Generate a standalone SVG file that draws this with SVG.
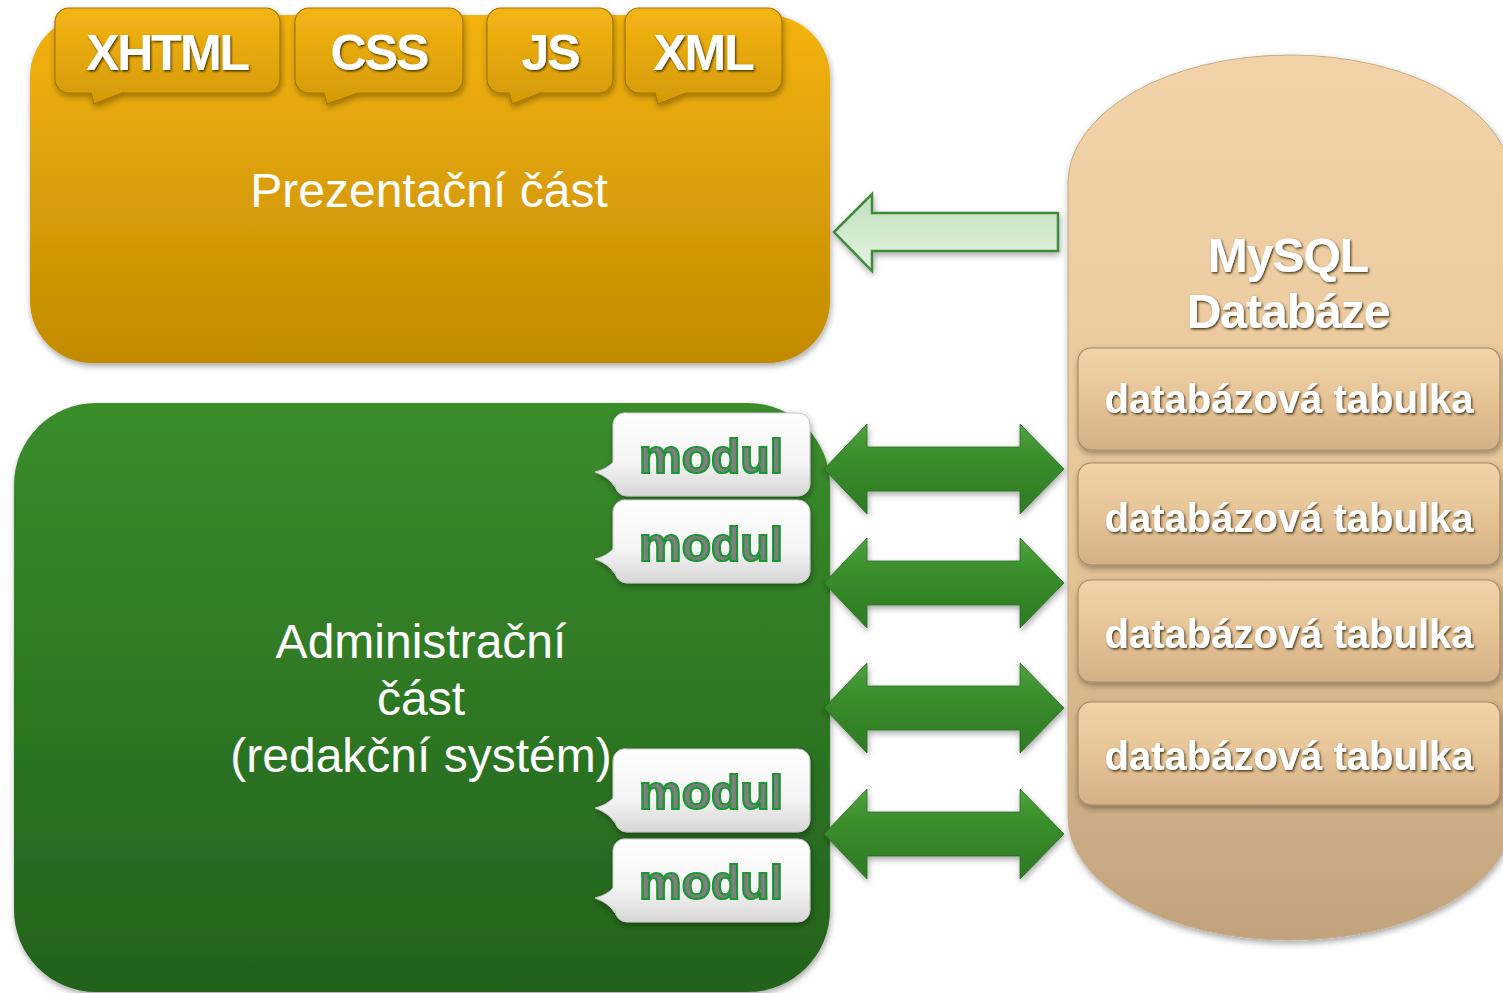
<svg xmlns="http://www.w3.org/2000/svg" width="1503" height="993" viewBox="0 0 1503 993">
  <defs>
    <style>
      .tabtxt { font-family: "Liberation Sans", Arial, sans-serif; font-weight: bold; font-size: 50px; fill: #ffffff; letter-spacing: -2px; text-anchor: middle; }
      .big { font-family: "Liberation Sans", Arial, sans-serif; font-size: 48px; fill: #ffffff; text-anchor: middle; }
      .mod { font-family: "Liberation Sans", Arial, sans-serif; font-weight: bold; font-size: 48px; fill: #7f7f7f; stroke: #1a9632; stroke-width: 2.2; text-anchor: middle; }
      .db { font-family: "Liberation Sans", Arial, sans-serif; font-weight: bold; font-size: 48px; fill: #ffffff; text-anchor: middle; letter-spacing: -1px; }
      .tbl { font-family: "Liberation Sans", Arial, sans-serif; font-weight: bold; font-size: 40px; fill: #ffffff; text-anchor: middle; }
      .tab { fill: url(#gTab); stroke: #a87400; stroke-width: 1.2; }
      .modbox { fill: url(#gMod); stroke: #c8c8c8; stroke-width: 1; }
      .row { fill: url(#gRow); stroke: #a88a66; stroke-width: 1.2; }
      .dbl { fill: url(#gArr); stroke: #2a6a22; stroke-width: 0.8; }
    </style>
    <linearGradient id="gOrange" x1="0" y1="0" x2="0" y2="1">
      <stop offset="0" stop-color="#F3B30E"/>
      <stop offset="1" stop-color="#C28A02"/>
    </linearGradient>
    <linearGradient id="gTab" x1="0" y1="0" x2="0" y2="1">
      <stop offset="0" stop-color="#F4B515"/>
      <stop offset="1" stop-color="#D49A05"/>
    </linearGradient>
    <linearGradient id="gGreen" x1="0" y1="0" x2="0" y2="1">
      <stop offset="0" stop-color="#3A8D2B"/>
      <stop offset="1" stop-color="#23621D"/>
    </linearGradient>
    <linearGradient id="gMod" x1="0" y1="0" x2="0" y2="1">
      <stop offset="0" stop-color="#ffffff"/>
      <stop offset="0.6" stop-color="#f4f4f4"/>
      <stop offset="1" stop-color="#d6d6d6"/>
    </linearGradient>
    <linearGradient id="gDB" x1="0" y1="0" x2="0" y2="1">
      <stop offset="0" stop-color="#F2D3A8"/>
      <stop offset="0.55" stop-color="#E6C598"/>
      <stop offset="1" stop-color="#C2A27C"/>
    </linearGradient>
    <linearGradient id="gRow" x1="0" y1="0" x2="0" y2="1">
      <stop offset="0" stop-color="#F1D3A9"/>
      <stop offset="0.5" stop-color="#E6C497"/>
      <stop offset="1" stop-color="#D3B086"/>
    </linearGradient>
    <linearGradient id="gArr" x1="0" y1="0" x2="0" y2="1">
      <stop offset="0" stop-color="#4FA53E"/>
      <stop offset="0.35" stop-color="#3A8E2C"/>
      <stop offset="1" stop-color="#2E7A24"/>
    </linearGradient>
    <linearGradient id="gHollow" x1="0" y1="0" x2="0" y2="1">
      <stop offset="0" stop-color="#C3E0BE"/>
      <stop offset="1" stop-color="#E3F2E0"/>
    </linearGradient>
    <filter id="sh" x="-10%" y="-10%" width="120%" height="120%">
      <feDropShadow dx="1" dy="3" stdDeviation="3" flood-color="#000" flood-opacity="0.35"/>
    </filter>
    <filter id="ts" x="-10%" y="-20%" width="120%" height="140%">
      <feDropShadow dx="1.2" dy="1.5" stdDeviation="0.8" flood-color="#2a1c05" flood-opacity="0.85"/>
    </filter>
    <path id="dblArrow" d="M824,0 L867,-45 L867,-22 L1020,-22 L1020,-45 L1064,0 L1020,45 L1020,22 L867,22 L867,45 Z"/>
    <path id="modShape" d="M12,0 H183 A12,12 0 0 1 195,12 V71 A12,12 0 0 1 183,83 H12 A12,12 0 0 1 0,71 V74 Q-6,64 -20,59 Q-8,56 -2,49 V12 A12,12 0 0 1 12,0 Z"/>
  </defs>

  <rect width="1503" height="993" fill="#ffffff"/>

  <!-- Presentation part -->
  <g id="prezentacni">
    <rect x="30" y="15" width="800" height="348" rx="62" ry="62" fill="url(#gOrange)" filter="url(#sh)"/>
    <text class="big" x="429" y="207">Prezentační část</text>
  </g>

  <g id="tab-xhtml" filter="url(#sh)">
    <path class="tab" d="M69,8 H266 A14,14 0 0 1 280,22 V79 A14,14 0 0 1 266,93 H122 L94,104 L91,93 H69 A14,14 0 0 1 55,79 V22 A14,14 0 0 1 69,8 Z"/>
    <text class="tabtxt" x="167" y="70" filter="url(#ts)">XHTML</text>
  </g>
  <g id="tab-css" filter="url(#sh)">
    <path class="tab" d="M309,8 H449 A14,14 0 0 1 463,22 V79 A14,14 0 0 1 449,93 H358 L327,104 L324,93 H309 A14,14 0 0 1 295,79 V22 A14,14 0 0 1 309,8 Z"/>
    <text class="tabtxt" x="379" y="70" filter="url(#ts)">CSS</text>
  </g>
  <g id="tab-js" filter="url(#sh)">
    <path class="tab" d="M501,8 H599 A14,14 0 0 1 613,22 V79 A14,14 0 0 1 599,93 H540 L512,104 L509,93 H501 A14,14 0 0 1 487,79 V22 A14,14 0 0 1 501,8 Z"/>
    <text class="tabtxt" x="550" y="70" filter="url(#ts)">JS</text>
  </g>
  <g id="tab-xml" filter="url(#sh)">
    <path class="tab" d="M639,8 H768 A14,14 0 0 1 782,22 V79 A14,14 0 0 1 768,93 H686 L658,104 L655,93 H639 A14,14 0 0 1 625,79 V22 A14,14 0 0 1 639,8 Z"/>
    <text class="tabtxt" x="703" y="70" filter="url(#ts)">XML</text>
  </g>

  <!-- Administration part -->
  <g id="administracni">
    <rect x="14" y="403" width="816" height="589" rx="82" ry="82" fill="url(#gGreen)" filter="url(#sh)"/>
    <text class="big" x="421" y="658">Administrační</text>
    <text class="big" x="421" y="715">část</text>
    <text class="big" x="421" y="772">(redakční systém)</text>
  </g>

  <g id="modul-1" filter="url(#sh)">
    <use href="#modShape" class="modbox" transform="translate(615,413)"/>
    <text class="mod" x="711" y="473">modul</text>
  </g>
  <g id="modul-2" filter="url(#sh)">
    <use href="#modShape" class="modbox" transform="translate(615,500)"/>
    <text class="mod" x="711" y="561">modul</text>
  </g>
  <g id="modul-3" filter="url(#sh)">
    <use href="#modShape" class="modbox" transform="translate(615,749)"/>
    <text class="mod" x="711" y="809">modul</text>
  </g>
  <g id="modul-4" filter="url(#sh)">
    <use href="#modShape" class="modbox" transform="translate(615,839)"/>
    <text class="mod" x="711" y="899">modul</text>
  </g>

  <!-- Database -->
  <g id="databaze">
    <path d="M1068,183 A222,128 0 0 1 1512,183 L1512,817 A222,123 0 0 1 1068,817 Z" fill="url(#gDB)" stroke="#c9ab86" stroke-width="1" filter="url(#sh)"/>
    <text class="db" x="1288" y="272" filter="url(#ts)">MySQL</text>
    <text class="db" x="1288" y="328" filter="url(#ts)">Databáze</text>
  </g>
  <g id="tabulka-1" filter="url(#sh)">
    <rect class="row" x="1078" y="348" width="422" height="102" rx="13"/>
    <text class="tbl" x="1289" y="413" filter="url(#ts)">databázová tabulka</text>
  </g>
  <g id="tabulka-2" filter="url(#sh)">
    <rect class="row" x="1078" y="463" width="422" height="102" rx="13"/>
    <text class="tbl" x="1289" y="532" filter="url(#ts)">databázová tabulka</text>
  </g>
  <g id="tabulka-3" filter="url(#sh)">
    <rect class="row" x="1078" y="580" width="422" height="102" rx="13"/>
    <text class="tbl" x="1289" y="648" filter="url(#ts)">databázová tabulka</text>
  </g>
  <g id="tabulka-4" filter="url(#sh)">
    <rect class="row" x="1078" y="702" width="422" height="103" rx="13"/>
    <text class="tbl" x="1289" y="770" filter="url(#ts)">databázová tabulka</text>
  </g>

  <!-- Connectors -->
  <g id="connectors">
    <path d="M834,232 L872,194 L872,213 L1058,213 L1058,251 L872,251 L872,271 Z" fill="url(#gHollow)" stroke="#3E8B3A" stroke-width="2.5" stroke-linejoin="miter" filter="url(#sh)"/>
    <use href="#dblArrow" class="dbl" transform="translate(0,469)" filter="url(#sh)"/>
    <use href="#dblArrow" class="dbl" transform="translate(0,583)" filter="url(#sh)"/>
    <use href="#dblArrow" class="dbl" transform="translate(0,708)" filter="url(#sh)"/>
    <use href="#dblArrow" class="dbl" transform="translate(0,834)" filter="url(#sh)"/>
  </g>
</svg>
